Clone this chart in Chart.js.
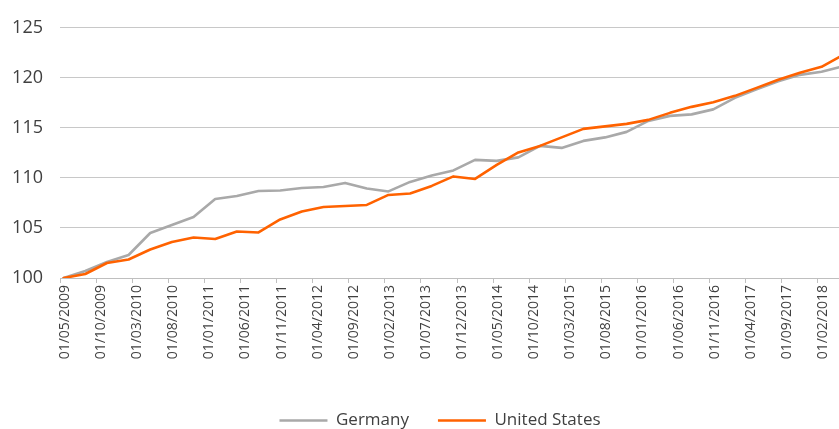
<!DOCTYPE html>
<html>
<head>
<meta charset="utf-8">
<script src="https://cdn.jsdelivr.net/npm/chart.js@4"></script>
<style>
	html, body { margin: 0; padding: 0; background: #fff; overflow: hidden; }
	#wrap { width: 880px; height: 429px; }
</style>
</head>
<body>
<div id="wrap"><canvas id="chart" width="880" height="429"></canvas></div>
<script>
// quarterly index, May 2009 = 100
const quarters = ['05/2009','08/2009','11/2009','02/2010','05/2010','08/2010','11/2010','02/2011','05/2011','08/2011',
	'11/2011','02/2012','05/2012','08/2012','11/2012','02/2013','05/2013','08/2013','11/2013','02/2014',
	'05/2014','08/2014','11/2014','02/2015','05/2015','08/2015','11/2015','02/2016','05/2016','08/2016',
	'11/2016','02/2017','05/2017','08/2017','11/2017','02/2018','05/2018'];

const germany = [100.0,100.7,101.6,102.3,104.5,105.3,106.1,107.9,108.2,108.7,
	108.75,109.0,109.1,109.5,108.95,108.65,109.6,110.25,110.75,111.8,
	111.7,112.05,113.2,113.0,113.7,114.05,114.6,115.7,116.2,116.35,
	116.85,118.0,118.85,119.65,120.3,120.6,121.15];

const unitedStates = [100.0,100.4,101.5,101.85,102.85,103.6,104.05,103.9,104.65,104.55,
	105.85,106.65,107.1,107.2,107.3,108.3,108.45,109.2,110.15,109.9,
	111.3,112.55,113.2,114.05,114.9,115.15,115.4,115.8,116.5,117.1,
	117.56,118.2,119.0,119.8,120.5,121.1,122.3];

const seriesNames = ['Germany', 'United States'];
const yTicks = [100, 105, 110, 115, 120, 125];

const startYear = 2009, startMonth = 5;
const labelEvery = 5; // months between axis labels

function monthIndex(s) {
	var parts = s.split('/');
	return (parseInt(parts[1]) - startYear) * 12 + (parseInt(parts[0]) - startMonth);
}

function monthLabel(i) {
	var m = startMonth - 1 + i;
	var y = startYear + Math.floor(m / 12);
	m = (m % 12) + 1;
	return '01/' + (m < 10 ? '0' + m : m) + '/' + y;
}

// points sit in the middle of their month, like Excel's "between tick marks"
function toPoints(values) {
	return values.map((v, i) => ({x: monthIndex(quarters[i]) + 0.5, y: v}));
}

const lastMonth = monthIndex(quarters[quarters.length - 1]);
const FONT = "'Open Sans', 'Noto Sans', sans-serif";

const legendHeight = {
	id: 'legendHeight',
	beforeInit(chart) {
		const fit = chart.legend.fit;
		chart.legend.fit = function () {
			fit.bind(chart.legend)();
			this.height = 46;
		};
	}
};

var ctx = document.getElementById('chart').getContext('2d');
var chart = new Chart(ctx, {
	type: 'line',
	data: {
		datasets: [
			{
				label: seriesNames[0],
				data: toPoints(germany),
				borderColor: '#a9a9a9',
				backgroundColor: '#a9a9a9',
				borderWidth: 2.6,
				order: 1,
			},
			{
				label: seriesNames[1],
				data: toPoints(unitedStates),
				borderColor: '#ff6200',
				backgroundColor: '#ff6200',
				borderWidth: 2.6,
				order: 0,
			},
		]
	},
	options: {
		responsive: false,
		animation: false,
		layout: {
			padding: {top: 27, left: 0, right: 0, bottom: 0}
		},
		elements: {
			point: { radius: 0 },
			line: { tension: 0, borderCapStyle: 'round', borderJoinStyle: 'round' }
		},
		scales: {
			x: {
				type: 'linear',
				min: 0,
				max: 113.6,
				afterBuildTicks(scale) {
					var ticks = [];
					for (var i = 0; i <= lastMonth; i += labelEvery) ticks.push({value: i});
					scale.ticks = ticks;
				},
				afterFit(scale) { scale.height = 105; },
				grid: {
					drawOnChartArea: false,
					drawTicks: true,
					tickLength: 5,
					color: '#bfbfbf',
				},
				border: { display: true, color: '#bfbfbf', width: 1 },
				ticks: {
					autoSkip: false,
					minRotation: 90,
					maxRotation: 90,
					padding: 2,
					labelOffset: 5,
					color: '#404040',
					font: { family: FONT, size: 14 },
					callback: (v) => monthLabel(v),
				},
			},
			y: {
				min: 100,
				max: 125,
				afterBuildTicks(scale) { scale.ticks = yTicks.map(v => ({value: v})); },
				afterFit(scale) { scale.width = 60; },
				grid: { color: '#c8c8c8', drawTicks: false },
				border: { display: false },
				ticks: {
					padding: 17,
					color: '#404040',
					font: { family: FONT, size: 18 },
				},
			},
		},
		plugins: {
			tooltip: { enabled: false },
			legend: {
				position: 'bottom',
				labels: {
					usePointStyle: true,
					pointStyle: 'line',
					pointStyleWidth: 48,
					padding: 29,
					color: '#404040',
					font: { family: FONT, size: 17 },
					sort: (a, b) => a.datasetIndex - b.datasetIndex,
				},
			},
		},
	},
	plugins: [legendHeight],
});
</script>
</body>
</html>
